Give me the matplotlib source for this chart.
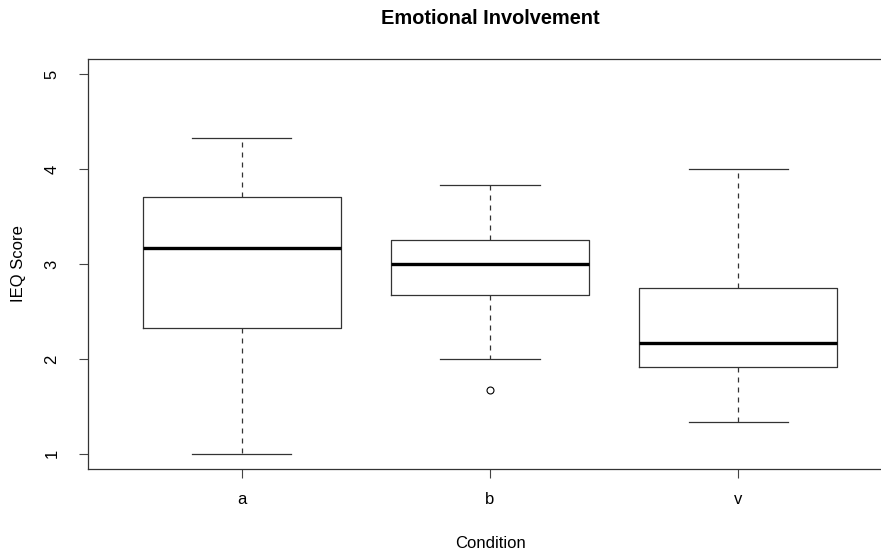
import matplotlib.pyplot as plt

plt.rcParams['font.family'] = ['Liberation Sans', 'DejaVu Sans']

# box stats
conditions = ['a', 'b', 'v']
whisker_low = [1.0, 2.0, 1.33]
q1 = [2.33, 2.67, 1.92]
median = [3.17, 3.0, 2.17]
q3 = [3.71, 3.25, 2.75]
whisker_high = [4.33, 3.83, 4.0]
outliers = [[], [1.67], []]

stats = []
for i in range(len(conditions)):
    stats.append(dict(label=conditions[i], whislo=whisker_low[i], q1=q1[i],
                      med=median[i], q3=q3[i], whishi=whisker_high[i],
                      fliers=outliers[i]))

fig = plt.figure(figsize=(8.81, 5.53), dpi=100)
ax = fig.add_axes([88 / 881, 1 - 469 / 553, 804 / 881, 410 / 553])

lw = 0.9
ax.bxp(stats, positions=[1, 2, 3], widths=0.8, showfliers=True,
       boxprops=dict(color='#333333', linewidth=lw),
       medianprops=dict(color='black', linewidth=2.4, solid_capstyle='butt'),
       whiskerprops=dict(color='#333333', linewidth=lw, linestyle=(0, (4, 4))),
       capprops=dict(color='#333333', linewidth=lw),
       flierprops=dict(marker='o', markerfacecolor='none', markeredgecolor='black',
                       markersize=5, markeredgewidth=0.8))

ax.set_xlim(0.38, 3.62)
ax.set_ylim(0.84, 5.16)
ax.set_yticks([1, 2, 3, 4, 5])
ax.set_yticklabels(['1', '2', '3', '4', '5'], rotation=90, va='center')
ax.set_xticks([1, 2, 3])
ax.set_xticklabels(conditions)
ax.tick_params(length=6.5, width=0.8, color='#444444', labelsize=12)
ax.tick_params(axis='x', pad=10)
ax.tick_params(axis='y', pad=14)

for s in ax.spines.values():
    s.set_color('#333333')
    s.set_linewidth(0.9)

fig.text(490 / 881, 1 - 18 / 553, 'Emotional Involvement', ha='center', va='center',
         fontsize=14.4, fontweight='bold')
fig.text(490 / 881, 1 - 543 / 553, 'Condition', ha='center', va='center', fontsize=12)
fig.text(19 / 881, 1 - 264 / 553, 'IEQ Score', ha='center', va='center', fontsize=12,
         rotation=90)

plt.savefig('out.png', dpi=100)
